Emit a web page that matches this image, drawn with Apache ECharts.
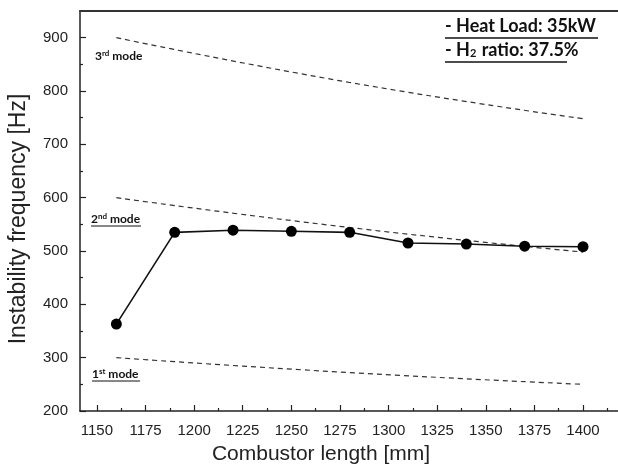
<!DOCTYPE html>
<html><head><meta charset="utf-8">
<script src="https://cdn.jsdelivr.net/npm/echarts@6/dist/echarts.min.js"></script>
<style>html,body{margin:0;padding:0;background:#fff;overflow:hidden}#c{width:618px;height:468px}</style>
</head><body><div id="c"></div>
<script>
const lengths = [1160, 1190, 1220, 1250, 1280, 1310, 1340, 1370, 1400];
const freq = [363, 535, 539, 537, 535, 515, 513, 509, 508];
const modeX = [1160, 1280, 1400];
const mode3 = [900, 816, 748];
const mode2 = [600, 544, 498];
const mode1 = [300, 272, 250];
const xTicks = [1150, 1175, 1200, 1225, 1250, 1275, 1300, 1325, 1350, 1375, 1400];
const xMinor = [1162.5, 1187.5, 1212.5, 1237.5, 1262.5, 1287.5, 1312.5, 1337.5, 1362.5, 1387.5, 1412.5];
const yTicks = [200, 300, 400, 500, 600, 700, 800, 900];
const yMinor = [250, 350, 450, 550, 650, 750, 850];

const AX = '#222';
const chart = echarts.init(document.getElementById('c'));
const xMin = 1141.3, xMax = 1418, yMin = 200, yMax = 950;
const pair = (xs, ys) => xs.map((x, i) => [x, ys[i]]);
const dashed = (d) => ({
  type: 'line', data: pair(modeX, d), symbol: 'none', smooth: true, silent: true,
  lineStyle: { color: '#333', width: 1.2, type: [5, 4] }, z: 2
});
const baseX = { type: 'value', min: xMin, max: xMax, splitLine: { show: false } };
const baseY = { type: 'value', min: yMin, max: yMax, splitLine: { show: false } };
const gridBox = { left: 80, right: 0, top: 11, bottom: 57, outerBoundsMode: 'none', containLabel: false, show: false };
const sup = { font: 'bold 8px Lato', fill: '#111', verticalAlign: 'top', padding: [0, 0, 6, 0] };
const md = { font: 'bold 12px Lato', fill: '#111' };
chart.setOption({
  animation: false,
  backgroundColor: '#fff',
  grid: [Object.assign({}, gridBox), Object.assign({}, gridBox)],
  xAxis: [
    Object.assign({}, baseX, {
      gridIndex: 0, position: 'bottom',
      name: 'Combustor length [mm]', nameLocation: 'middle', nameGap: 33,
      nameTextStyle: { fontFamily: 'Liberation Sans', fontSize: 21, color: AX, padding: [0, 56, 0, 0] },
      axisLine: { show: true, lineStyle: { color: AX, width: 1.5 } },
      axisTick: { show: true, inside: true, length: 6, customValues: xTicks, lineStyle: { color: AX, width: 1.2 } },
      axisLabel: { customValues: xTicks, margin: 12, fontFamily: 'Liberation Sans', fontSize: 15, color: AX, formatter: v => String(v) }
    }),
    Object.assign({}, baseX, {
      gridIndex: 1, position: 'bottom',
      axisLine: { show: false },
      axisTick: { show: true, inside: true, length: 3, customValues: xMinor, lineStyle: { color: AX, width: 1.2 } },
      axisLabel: { show: false }
    }),
    Object.assign({}, baseX, {
      gridIndex: 0, position: 'top',
      axisLine: { show: true, lineStyle: { color: '#333', width: 2 } },
      axisTick: { show: false },
      axisLabel: { show: false }
    })
  ],
  yAxis: [
    Object.assign({}, baseY, {
      gridIndex: 0, position: 'left',
      name: 'Instability frequency [Hz]', nameLocation: 'middle', nameGap: 50,
      nameTextStyle: { fontFamily: 'Liberation Sans', fontSize: 23, color: AX, padding: [0, 16, 0, 0] },
      axisLine: { show: true, lineStyle: { color: AX, width: 1.5 } },
      axisTick: { show: true, inside: true, length: 6, customValues: yTicks, lineStyle: { color: AX, width: 1.2 } },
      axisLabel: { customValues: yTicks, margin: 12, fontFamily: 'Liberation Sans', fontSize: 15, color: AX, formatter: v => String(v) }
    }),
    Object.assign({}, baseY, {
      gridIndex: 1, position: 'left',
      axisLine: { show: false },
      axisTick: { show: true, inside: true, length: 3, customValues: yMinor, lineStyle: { color: AX, width: 1.2 } },
      axisLabel: { show: false }
    })
  ],
  series: [
    dashed(mode3), dashed(mode2), dashed(mode1),
    {
      type: 'line', data: pair(lengths, freq), symbol: 'circle', symbolSize: 11,
      itemStyle: { color: '#000' }, lineStyle: { color: '#111', width: 1.6 }, z: 5
    }
  ],
  graphic: [
    { type: 'text', left: 445, top: 17, style: { text: '- Heat Load: 35kW', font: 'bold 18px Lato', fill: '#111' } },
    { type: 'line', shape: { x1: 445, y1: 38, x2: 598, y2: 38 }, style: { stroke: '#111', lineWidth: 1.3 } },
    { type: 'text', left: 445, top: 41, style: {
      text: '{a|- H}{s|2}{a| ratio: 37.5%}',
      rich: { a: { font: 'bold 18px Lato', fill: '#111' }, s: { font: 'bold 11px Lato', fill: '#111', verticalAlign: 'bottom', padding: [7, 1, 0, 0] } } } },
    { type: 'line', shape: { x1: 445, y1: 62, x2: 567, y2: 62 }, style: { stroke: '#111', lineWidth: 1.3 } },
    { type: 'text', left: 95, top: 49, style: { text: '{a|3}{s|rd}{a| mode}', rich: { a: md, s: sup } } },
    { type: 'text', left: 91, top: 212, style: { text: '{a|2}{s|nd}{a| mode}', rich: { a: md, s: sup } } },
    { type: 'line', shape: { x1: 91, y1: 226, x2: 141, y2: 226 }, style: { stroke: '#111', lineWidth: 1 } },
    { type: 'text', left: 92, top: 367, style: { text: '{a|1}{s|st}{a| mode}', rich: { a: md, s: sup } } },
    { type: 'line', shape: { x1: 92, y1: 381, x2: 140, y2: 381 }, style: { stroke: '#111', lineWidth: 1 } }
  ]
});
</script></body></html>
